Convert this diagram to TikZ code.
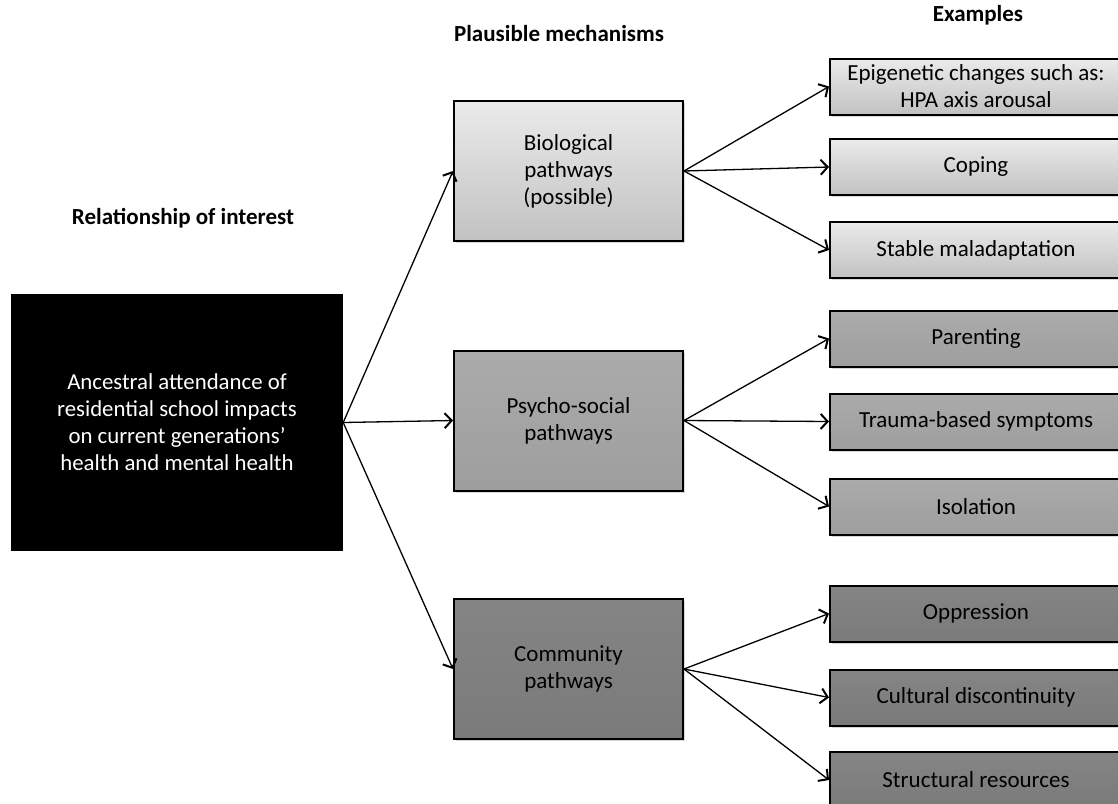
\documentclass[tikz,border=0pt]{standalone}
\usepackage{fontspec}
\setmainfont{Carlito}
\usetikzlibrary{arrows.meta,shadows}

\begin{document}
\begin{tikzpicture}[x=1pt,y=-1pt,
        font=\fontsize{23}{27}\selectfont,
        every node/.style={align=center,inner sep=0pt},
        heading/.style={font=\fontsize{23}{27}\selectfont\bfseries},
        mechbox/.style={draw,line width=2pt,minimum width=229pt,minimum height=140pt,
            drop shadow={opacity=0.3,shadow xshift=2pt,shadow yshift=-2pt}},
        examplebox/.style={draw,line width=2pt,minimum width=292pt,minimum height=56pt,anchor=west,
            drop shadow={opacity=0.3,shadow xshift=2pt,shadow yshift=-2pt}},
        biofill/.style={top color=black!8,bottom color=black!24},
        psyfill/.style={top color=black!33,bottom color=black!38},
        comfill/.style={top color=black!48,bottom color=black!52},
        link/.style={-{Straight Barb[length=7pt,width=15pt,line width=2pt]},line width=1.3pt}]

    \clip (0,0) rectangle (1118,803);
    \fill[white] (0,0) rectangle (1118,803);

    \node[heading] (hrel) at (183,218) {Relationship of interest};
    \node[heading] (hmech) at (559,34) {Plausible mechanisms};
    \node[heading] (hex) at (978,15) {Examples};

    \node[fill=black,text=white,minimum width=332pt,minimum height=257pt,font=\fontsize{22.8}{27}\selectfont]
        (root) at (177,422.5) {Ancestral attendance of\\residential school impacts\\on current generations'\\health and mental health};

    \node[mechbox,biofill] (bio) at (568.5,171) {Biological\\pathways\\(possible)};
    \node[mechbox,psyfill] (psy) at (568.5,420.5) {Psycho-social\\pathways};
    \node[mechbox,comfill] (com) at (568.5,669) {Community\\pathways};

    \node[examplebox,biofill] (epi) at (829,86.5) {Epigenetic changes such as:\\HPA axis arousal};
    \node[examplebox,biofill] (cop) at (829,167) {Coping};
    \node[examplebox,biofill] (mal) at (829,250) {Stable maladaptation};
    \node[examplebox,psyfill] (par) at (829,338.5) {Parenting};
    \node[examplebox,psyfill] (tra) at (829,421.5) {Trauma-based symptoms};
    \node[examplebox,psyfill] (iso) at (829,506.5) {Isolation};
    \node[examplebox,comfill] (opp) at (829,613.5) {Oppression};
    \node[examplebox,comfill] (cul) at (829,697.5) {Cultural discontinuity};
    \node[examplebox,comfill] (str) at (829,780) {Structural resources};

    \draw[link] (root.east) -- (bio.west);
    \draw[link] (root.east) -- (psy.west);
    \draw[link] (root.east) -- (com.west);

    \draw[link] (bio.east) -- (epi.west);
    \draw[link] (bio.east) -- (cop.west);
    \draw[link] (bio.east) -- (mal.west);
    \draw[link] (psy.east) -- (par.west);
    \draw[link] (psy.east) -- (tra.west);
    \draw[link] (psy.east) -- (iso.west);
    \draw[link] (com.east) -- (opp.west);
    \draw[link] (com.east) -- (cul.west);
    \draw[link] (com.east) -- (str.west);
\end{tikzpicture}
\end{document}
